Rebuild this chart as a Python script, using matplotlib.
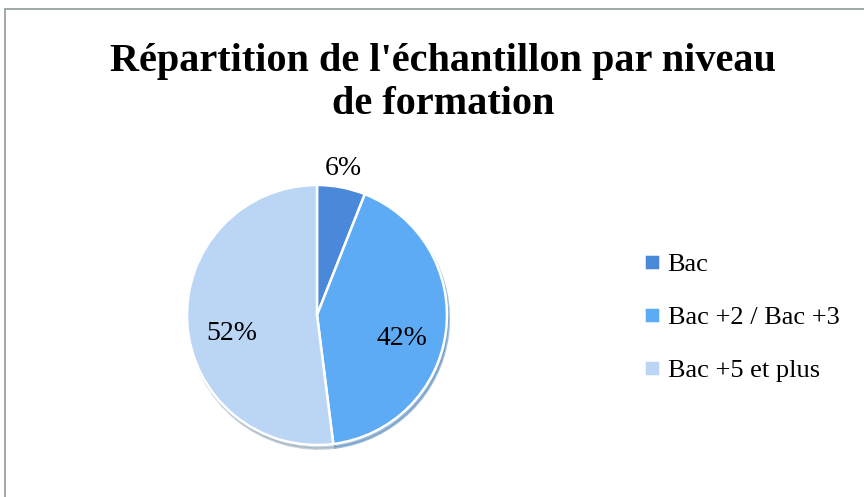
import numpy as np
import matplotlib.pyplot as plt
from matplotlib.patches import Rectangle

categories = ['Bac', 'Bac +2 / Bac +3', 'Bac +5 et plus']
values = [6, 42, 52]
colors = ['#4a88d9', '#5eabf5', '#bbd6f4']

plt.rcParams['font.family'] = ['Liberation Serif', 'DejaVu Serif']

fig = plt.figure(figsize=(8.64, 4.97), dpi=100)
fig.patches.append(Rectangle((5 / 864, -0.1), 1.2, (497 - 9) / 497 + 0.1,
                             transform=fig.transFigure, fill=False,
                             edgecolor='#8d9b99', linewidth=1.2))

fig.text(443 / 864, 1 - 83 / 497, "Répartition de l'échantillon par niveau\nde formation",
         ha='center', va='center', fontsize=29, fontweight='bold', linespacing=1.2)

# pie axes: centre ~ (317, 315) px, radius ~ 130 px
r = 130
ax = fig.add_axes([(317 - r) / 864, (497 - 315 - r) / 497, 2 * r / 864, 2 * r / 497])
wedges, texts, autotexts = ax.pie(values, colors=colors, startangle=90, counterclock=False,
                                  autopct='%1.0f%%', pctdistance=0.66,
                                  wedgeprops=dict(edgecolor='white', linewidth=1.8),
                                  textprops=dict(fontsize=20),
                                  shadow={'ox': 0.01, 'oy': -0.02, 'shade': 0.25})
ax.set_xlim(-1, 1)
ax.set_ylim(-1, 1)

# small slice label outside the pie
w = wedges[0]
ang = np.deg2rad((w.theta1 + w.theta2) / 2)
autotexts[0].set_position((1.1 * np.cos(ang), 1.15 * np.sin(ang)))
for t in autotexts[1:]:
    x, y = t.get_position()
    t.set_position((x, y - 0.1))

fig.legend(wedges, categories, loc='center left', bbox_to_anchor=(620 / 864, 1 - 318 / 497),
           frameon=False, fontsize=19, handlelength=0.6, handleheight=0.6,
           handletextpad=0.3, labelspacing=1.15)

fig.savefig('out.png', dpi=100)
